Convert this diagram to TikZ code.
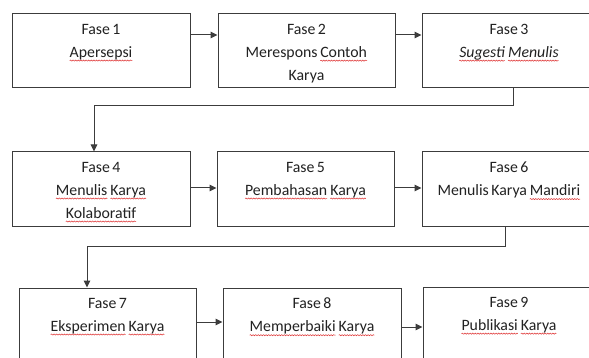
\documentclass[tikz,border=0pt]{standalone}
\usepackage{fontspec}
\setmainfont{Carlito}[WordSpace=0.7]
\usetikzlibrary{arrows.meta,decorations.pathmorphing}
\definecolor{lineC}{HTML}{3C3C3C}
\definecolor{textC}{HTML}{222222}
\definecolor{spellC}{HTML}{E03A3A}
\newcommand\sperr[1]{\tikz[x=1cm,y=1cm,baseline=(w.base)]{\node[inner sep=0pt,outer sep=0pt] (w) {#1};
  \draw[spellC,line width=0.55pt,decorate,decoration={snake,amplitude=0.55pt,segment length=2.6pt}]
   ([yshift=-3.2pt]w.base west) -- ([yshift=-3.2pt]w.base east);}}
\begin{document}
\begin{tikzpicture}[x=1pt,y=-1pt,
  fasebox/.style={draw=lineC,line width=1pt},
  fasetext/.style={anchor=north,align=center,inner sep=0pt,text=textC,font=\fontsize{15.8}{23}\selectfont},
  conn/.style={draw=lineC,line width=1pt},
  arr/.style={conn,-{Triangle[length=7pt,width=6.5pt]}}]
\useasboundingbox (0,0) rectangle (589,358);
\clip (0,0) rectangle (589,358);
\fill[white] (0,0) rectangle (589,358);
% boxes
\node[fasebox,inner sep=0pt,minimum width=178pt,minimum height=74pt] (b1) at (101,51) {};
\node[fasebox,inner sep=0pt,minimum width=177pt,minimum height=74pt] (b2) at (306.5,51) {};
\node[fasebox,inner sep=0pt,minimum width=174pt,minimum height=74pt] (b3) at (509,51) {};
\node[fasebox,inner sep=0pt,minimum width=178pt,minimum height=75pt] (b4) at (101,189.5) {};
\node[fasebox,inner sep=0pt,minimum width=177pt,minimum height=75pt] (b5) at (305.5,189.5) {};
\node[fasebox,inner sep=0pt,minimum width=174pt,minimum height=75pt] (b6) at (509,189.5) {};
\node[fasebox,inner sep=0pt,minimum width=177pt,minimum height=100pt] (b7) at (107.5,338) {};
\node[fasebox,inner sep=0pt,minimum width=178pt,minimum height=100pt] (b8) at (312,338) {};
\node[fasebox,inner sep=0pt,minimum width=172pt,minimum height=100pt] (b9) at (509,337) {};
% texts
\node[fasetext] (t1) at ([yshift=-10.5pt]b1.north) {Fase 1\\\sperr{Apersepsi}};
\node[fasetext] (t2) at ([yshift=-10.5pt]b2.north) {Fase 2\\Merespons \sperr{Contoh}\\Karya};
\node[fasetext] (t3) at ([yshift=-10.5pt]b3.north) {Fase 3\\\itshape\sperr{Sugesti} \sperr{Menulis}};
\node[fasetext] (t4) at ([yshift=-10.5pt]b4.north) {Fase 4\\\sperr{Menulis} \sperr{Karya}\\\sperr{Kolaboratif}};
\node[fasetext] (t5) at ([yshift=-10.5pt]b5.north) {Fase 5\\\sperr{Pembahasan} \sperr{Karya}};
\node[fasetext] (t6) at ([yshift=-10.5pt]b6.north) {Fase 6\\Menulis Karya \sperr{Mandiri}};
\node[fasetext] (t7) at ([yshift=-10.5pt]b7.north) {Fase 7\\\sperr{Eksperimen} \sperr{Karya}};
\node[fasetext] (t8) at ([yshift=-10.5pt]b8.north) {Fase 8\\\sperr{Memperbaiki} \sperr{Karya}};
\node[fasetext] (t9) at ([yshift=-10.5pt]b9.north) {Fase 9\\\sperr{Publikasi} \sperr{Karya}};
% horizontal arrows
\coordinate (r1) at (0,35);
\coordinate (r2) at (0,188);
\coordinate (r3) at (0,322);
\coordinate (r3b) at (0,327);
\draw[arr] (b1.east |- r1) -- (b2.west |- r1);
\draw[arr] (b2.east |- r1) -- (b3.west |- r1);
\draw[arr] (b4.east |- r2) -- (b5.west |- r2);
\draw[arr] (b5.east |- r2) -- (b6.west |- r2);
\draw[arr] (b7.east |- r3) -- (b8.west |- r3);
\draw[arr] (b8.east |- r3b) -- (b9.west |- r3b);
% elbow connectors
\coordinate (e1) at (513,106);
\coordinate (e2) at (94,106);
\draw[arr] (b3.south -| e1) -- (e1) -- (e2) -- (b4.north -| e2);
\coordinate (e3) at (505,247);
\coordinate (e4) at (87,247);
\draw[arr] (b6.south -| e3) -- (e3) -- (e4) -- (b7.north -| e4);
\end{tikzpicture}
\end{document}
